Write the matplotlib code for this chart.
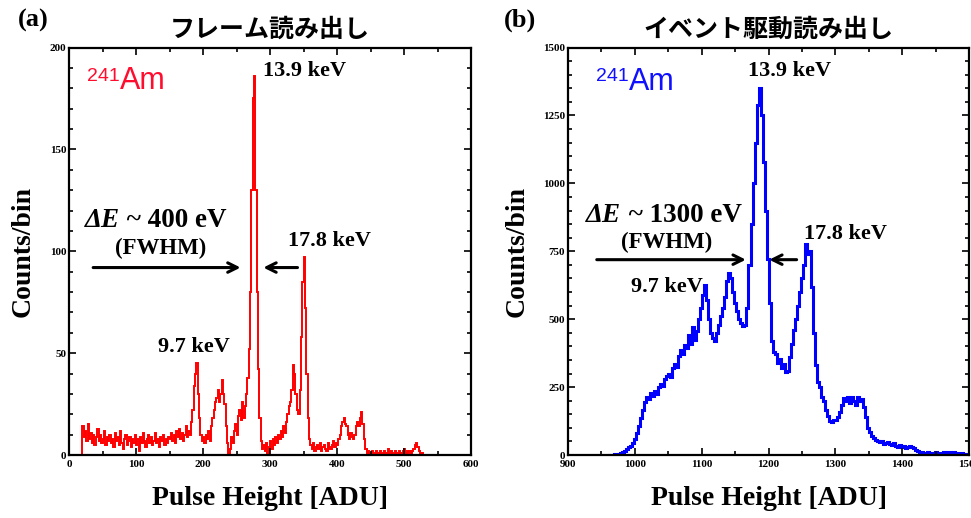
import matplotlib

matplotlib.use("Agg")
import matplotlib.pyplot as plt
import numpy as np
from matplotlib.ticker import MultipleLocator

# frame readout spectrum, 2 ADU bins starting at 20 ADU
frame_start, frame_bin = 20, 2
frame_counts = [
    14, 9, 12, 7, 15,
    8, 11, 6, 10, 5, 9, 13, 7, 10, 6, 8, 12, 5, 9, 7,
    10, 6, 8, 4, 11, 7, 9, 5, 12, 6, 3, 8, 10, 5, 7, 9, 4, 8, 6, 10,
    5, 8, 2, 9, 6, 11, 7, 4, 8, 10, 6, 9, 5, 7, 11, 6, 8, 4, 9, 7, 10, 5, 8, 6, 9,
    8, 11, 7, 10, 6, 12, 9, 13, 8, 11, 7, 10, 14, 9, 12,
    10, 16, 22, 34, 40, 45, 30, 18, 10, 7,
    9, 6, 10, 8, 12, 7, 14, 18, 22, 26,
    28, 32, 26, 30, 37, 30, 25, 14, 6, 1,
    3, 9, 6, 12, 15, 10, 19, 22, 17, 26,
    18, 24, 30, 38, 52, 80, 130, 175, 186, 130, 80, 42, 18, 7, 3,
    5, 2, 6, 1, 4, 7, 3, 8, 5, 9, 6, 10, 8, 12, 9, 14, 11, 16, 20, 24,
    26, 32, 44, 40, 30, 22, 20, 32, 58, 85, 97, 72, 40, 18, 8,
    5, 3, 6, 2, 4, 5, 3, 6, 2, 4, 5, 3, 2, 6, 4, 3, 5, 7, 4, 6,
    5, 8, 10, 14, 16, 18, 15, 14, 10, 8, 11, 9, 8, 10, 14, 16, 14, 18, 21, 15, 8, 3, 1, 2, 1,
    1, 2, 1, 0, 2, 1, 1, 2, 0, 1, 2, 1, 1, 3, 1, 2, 1, 0, 2, 1,
    1, 2, 1, 1, 2, 3, 1, 2, 1, 2, 1, 2, 3, 5, 6, 4, 2, 1, 1, 0,
]

# event-driven readout spectrum, 3 ADU bins starting at 960 ADU
event_start, event_bin = 960, 3
event_counts = [
    0, 0, 1, 2, 3, 5, 8, 12, 16, 22,
    28, 35, 45, 58, 80, 105, 135, 165, 195, 215,
    205, 228, 218, 235, 225, 250, 262, 255, 280, 290,
    300, 288, 320, 335, 325, 365, 385, 370, 405, 395,
    440, 410, 470, 425, 455, 500, 540, 590, 625, 570,
    500, 450, 430, 420, 450, 480, 510, 540, 580, 640,
    670, 650, 600, 560, 530, 500, 485, 475, 480, 540,
    700, 850, 1000, 1150, 1290, 1350, 1250, 1080, 900, 720,
    560, 420, 380, 370, 340, 355, 320, 335, 305, 310,
    360, 410, 460, 500, 550, 600, 650, 700, 775, 740,
    750, 620, 450, 330, 270, 250, 215, 200, 165, 145,
    125, 120, 130, 128, 140, 160, 185, 210, 200, 215,
    190, 212, 200, 185, 215, 200, 205, 175, 140, 100,
    85, 70, 62, 55, 52, 48, 50, 40, 45, 48,
    42, 38, 45, 35, 30, 38, 28, 32, 25, 28,
    35, 30, 25, 20, 15, 12, 10, 9, 8, 10,
    7, 9, 8, 10, 8, 7, 9, 11, 8, 12,
    10, 8, 11, 9, 7, 8, 6, 4, 2, 1,
]

SERIF = ["Liberation Serif", "DejaVu Serif"]
JP = ["Noto Sans CJK JP", "DejaVu Sans"]
SANS = ["Liberation Sans", "DejaVu Sans"]


def style_axes(ax, xmaj, xmin, ymaj, ymin):
    ax.xaxis.set_major_locator(MultipleLocator(xmaj))
    ax.xaxis.set_minor_locator(MultipleLocator(xmin))
    ax.yaxis.set_major_locator(MultipleLocator(ymaj))
    ax.yaxis.set_minor_locator(MultipleLocator(ymin))
    ax.tick_params(which="both", direction="in", top=True, right=True, width=1.2)
    ax.tick_params(axis="x", pad=3.5)
    ax.tick_params(axis="y", pad=2)
    ax.tick_params(which="major", length=5)
    ax.tick_params(which="minor", length=3)
    for sp in ax.spines.values():
        sp.set_linewidth(1.6)
    for lab in ax.get_xticklabels() + ax.get_yticklabels():
        lab.set_fontfamily(SERIF)
        lab.set_fontweight("bold")
        lab.set_fontsize(8)
    ax.set_xlabel("Pulse Height [ADU]", family=SERIF, weight="bold", fontsize=20, labelpad=12)
    ax.set_ylabel("Counts/bin", family=SERIF, weight="bold", fontsize=20, labelpad=10)


def arrow(ax, x0, x1, y):
    ax.annotate("", xy=(x1, y), xytext=(x0, y),
                arrowprops=dict(arrowstyle="->", lw=2.2, color="black",
                                mutation_scale=17, shrinkA=0, shrinkB=0))


def bold_text(ax, x, y, s, size=16, **kw):
    ax.text(x, y, s, family=SERIF, weight="bold", fontsize=size, ha="center", va="center", **kw)


def delta_label(ax, x, y, s):
    ax.text(x, y, "ΔE", family=SERIF, weight="bold", style="italic", fontsize=19.5,
            ha="right", va="center")
    ax.text(x, y, " ~ " + s, family=SERIF, weight="bold", fontsize=19.5, ha="left", va="center")


def isotope(ax, x, y_am, y_num, color):
    ax.text(x, y_am, "Am", family=SANS, fontsize=22, color=color, ha="left", va="baseline")
    ax.text(x, y_num, "241", family=SANS, fontsize=14, color=color, ha="right", va="baseline")


fig = plt.figure(figsize=(9.71, 5.18), dpi=100)
ax1 = fig.add_axes([0.0711, 0.1216, 0.414, 0.7867])
ax2 = fig.add_axes([0.585, 0.1216, 0.413, 0.7867])

# (a) frame readout
edges1 = frame_start + frame_bin * np.arange(len(frame_counts) + 1)
ax1.stairs(frame_counts, edges1, baseline=0, color="#ff0000", lw=1.4)
ax1.set_xlim(0, 600)
ax1.set_ylim(0, 200)
style_axes(ax1, 100, 50, 50, 10)
isotope(ax1, 76, 179.5, 183.5, "#ff0d2e")
bold_text(ax1, 352, 188.5, "13.9 keV")
bold_text(ax1, 389, 105, "17.8 keV")
bold_text(ax1, 186, 53, "9.7 keV")
delta_label(ax1, 76, 115, "400 eV")
bold_text(ax1, 137, 101.5, "(FWHM)", size=16.5)
arrow(ax1, 36, 256, 92)
arrow(ax1, 341, 290, 92)
ax1.set_title("フレーム読み出し", family=JP, weight="bold", fontsize=18, pad=8)
fig.text(0.034, 0.961, "(a)", family=SERIF, weight="bold", fontsize=19, ha="center", va="center")

# (b) event-driven readout
edges2 = event_start + event_bin * np.arange(len(event_counts) + 1)
ax2.stairs(event_counts, edges2, baseline=0, color="#0000ff", lw=2.2)
ax2.set_xlim(900, 1500)
ax2.set_ylim(0, 1500)
style_axes(ax2, 100, 50, 250, 50)
isotope(ax2, 991, 1345, 1375, "#1010ff")
bold_text(ax2, 1232, 1413, "13.9 keV")
bold_text(ax2, 1315, 815, "17.8 keV")
bold_text(ax2, 1048, 617, "9.7 keV")
delta_label(ax2, 980, 883, "1300 eV")
bold_text(ax2, 1048, 782, "(FWHM)", size=16.5)
arrow(ax2, 943, 1166, 719)
arrow(ax2, 1242, 1201, 719)
ax2.set_title("イベント駆動読み出し", family=JP, weight="bold", fontsize=18, pad=8)
fig.text(0.5355, 0.961, "(b)", family=SERIF, weight="bold", fontsize=19, ha="center", va="center")

fig.savefig("out.png", dpi=100)
